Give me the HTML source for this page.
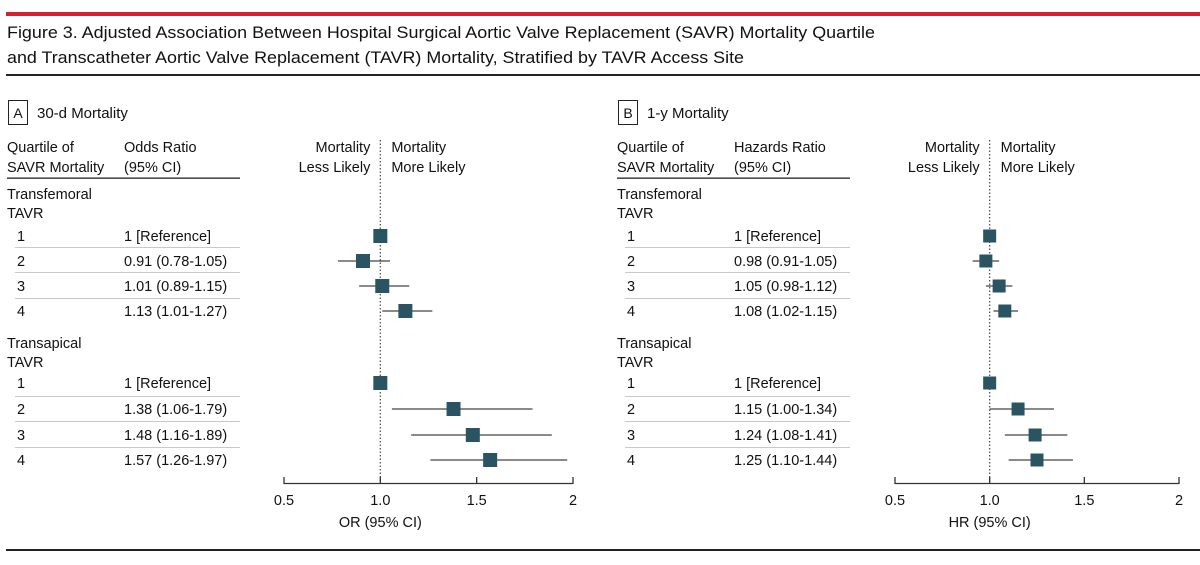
<!DOCTYPE html>
<html><head><meta charset="utf-8"><style>
html,body{margin:0;padding:0;background:#fff;}
svg{display:block;font-family:"Liberation Sans",sans-serif;}
</style></head><body>
<svg id="fig" width="1200" height="565" viewBox="0 0 1200 565">
<rect x="6" y="12" width="1194" height="4" fill="#d71f33"/>
<text x="7" y="38" font-size="17" fill="#111" textLength="868" lengthAdjust="spacingAndGlyphs">Figure 3. Adjusted Association Between Hospital Surgical Aortic Valve Replacement (SAVR) Mortality Quartile</text>
<text x="7" y="63" font-size="17" fill="#111" textLength="737" lengthAdjust="spacingAndGlyphs">and Transcatheter Aortic Valve Replacement (TAVR) Mortality, Stratified by TAVR Access Site</text>
<rect x="6" y="74" width="1194" height="2" fill="#222"/>
<rect x="6" y="549" width="1194" height="2" fill="#222"/>
<g id="panels"></g>
</svg>
<script>
const rowLabels = ["1","2","3","4","1","2","3","4"];
const aEst = [1,0.91,1.01,1.13,1,1.38,1.48,1.57];
const aLo = [null,0.78,0.89,1.01,null,1.06,1.16,1.26];
const aHi = [null,1.05,1.15,1.27,null,1.79,1.89,1.97];
const aText = ["1 [Reference]","0.91 (0.78-1.05)","1.01 (0.89-1.15)","1.13 (1.01-1.27)","1 [Reference]","1.38 (1.06-1.79)","1.48 (1.16-1.89)","1.57 (1.26-1.97)"];
const bEst = [1,0.98,1.05,1.08,1,1.15,1.24,1.25];
const bLo = [null,0.91,0.98,1.02,null,1.00,1.08,1.10];
const bHi = [null,1.05,1.12,1.15,null,1.34,1.41,1.44];
const bText = ["1 [Reference]","0.98 (0.91-1.05)","1.05 (0.98-1.12)","1.08 (1.02-1.15)","1 [Reference]","1.15 (1.00-1.34)","1.24 (1.08-1.41)","1.25 (1.10-1.44)"];
const ticks = [0.5,1.0,1.5,2];
const tickLabels = ["0.5","1.0","1.5","2"];

const NS="http://www.w3.org/2000/svg";
const root=document.getElementById('panels');
function mk(tag,attrs,parent,txt){const e=document.createElementNS(NS,tag);for(const k in attrs)e.setAttribute(k,attrs[k]);if(txt!==undefined)e.textContent=txt;(parent||root).appendChild(e);return e;}
const rowY=[236,261,286,311,383,409,435,460];
const sepY=[247,272,298,396,421,447];

function panel(off,letter,title,ratioLabel,axisTitle,est,lo,hi,txt,x0,x1,sq){
  const g=mk('g',{});
  
  
  const X=v=>x0+(v-0.5)*(x1-x0)/1.5;
  let e=mk('rect',{x:off+8.5,y:100.5,width:19,height:24,fill:'none',stroke:'#222'},g);
  
  e=mk('text',{x:off+18,y:118,'font-size':14,'text-anchor':'middle',fill:'#111'},g,letter);
  
  e=mk('text',{x:off+37,y:118,'font-size':15,fill:'#111'},g,title);
  
  const t=(x,y,s,name,anchor)=>{const el=mk('text',{x:x,y:y,'font-size':14.5,fill:'#111','text-anchor':anchor||'start'},g,s);return el;};
  t(off+7,152,'Quartile of','header-quartile');
  t(off+7,172,'SAVR Mortality','header-quartile-2');
  t(off+124,152,ratioLabel,'header-ratio');
  t(off+124,172,'(95% CI)','header-ci');
  e=mk('rect',{x:off+7,y:177.5,width:233,height:1.3,fill:'#222'},g);
  
  t(off+7,199,'Transfemoral','group-transfemoral');
  t(off+7,218,'TAVR','group-transfemoral-2');
  t(off+7,348,'Transapical','group-transapical');
  t(off+7,367,'TAVR','group-transapical-2');
  const xm=X(1);
  t(xm-10,152,'Mortality','less-likely-label','end');
  t(xm-10,172,'Less Likely','less-likely-label-2','end');
  t(xm+11,152,'Mortality','more-likely-label');
  t(xm+11,172,'More Likely','more-likely-label-2');
  sepY.forEach(y=>{const l=mk('line',{x1:off+15,x2:off+240,y1:y+0.5,y2:y+0.5,stroke:'#c8c8c8','stroke-width':1},g);});
  e=mk('line',{x1:xm,x2:xm,y1:140,y2:483,stroke:'#555','stroke-width':1.3,'stroke-dasharray':'1.5,2'},g);
  
  // axis
  e=mk('line',{x1:X(0.5),x2:X(2),y1:483.5,y2:483.5,stroke:'#333','stroke-width':1.3},g);
  
  ticks.forEach((v,i)=>{
    const tk=mk('line',{x1:X(v),x2:X(v),y1:477,y2:484,stroke:'#333','stroke-width':1.3},g);
    
    t(X(v),505,tickLabels[i],'x-tick-label','middle');
  });
  t(X(1),527,axisTitle,'x-axis-title','middle');
  est.forEach((v,i)=>{
    const y=rowY[i];
    t(off+17,y+5,rowLabels[i],'row-quartile');
    t(off+124,y+5,txt[i],'row-estimate-text');
    if(lo[i]!==null){
      const ln=mk('line',{x1:X(lo[i]),x2:X(hi[i]),y1:y,y2:y,stroke:'#444','stroke-width':1.3},g);
      
    }
    const r=mk('rect',{x:X(v)-sq/2,y:y-sq/2,width:sq,height:sq,fill:'#2a5461'},g);
    
  });
}
panel(0,'A','30-d Mortality','Odds Ratio','OR (95% CI)',aEst,aLo,aHi,aText,284,573,14);
panel(610,'B','1-y Mortality','Hazards Ratio','HR (95% CI)',bEst,bLo,bHi,bText,895,1179,13);
</script>
</body></html>
